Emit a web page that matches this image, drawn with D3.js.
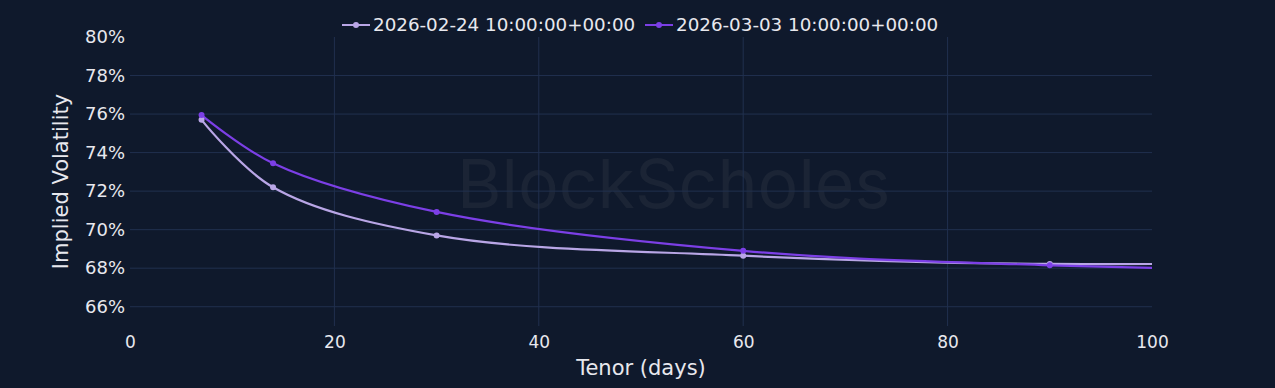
<!DOCTYPE html>
<html>
<head>
    <title>Implied Volatility Term Structure</title>
    <script src="https://d3js.org/d3.v7.min.js"></script>
    <style>
        body { margin: 0; background: #0f192c; }
        svg { display: block; }
        .tick text { fill: #e8e8ee; font-family: "DejaVu Sans", sans-serif; }
        .axis-title { fill: #e8e8ee; font-family: "DejaVu Sans", sans-serif; font-size: 21px; }
        .legend text { fill: #e8e8ee; font-family: "DejaVu Sans", sans-serif; font-size: 18.3px; }
    </style>
</head>
<body>
    <svg width="1275" height="388"></svg>
    <script>
        // tenor in days; last point sits past the visible range and is clipped
        var tenors = [7, 14, 30, 60, 90, 180];
        var seriesNames = ["2026-02-24 10:00:00+00:00", "2026-03-03 10:00:00+00:00"];
        var volFeb24 = [75.7, 72.2, 69.7, 68.65, 68.22, 68.8];
        var volMar03 = [75.95, 73.45, 70.92, 68.9, 68.15, 67.1];
        var seriesColors = ["#b9a6e6", "#7c3fe6"];
        var xTicks = [0, 20, 40, 60, 80, 100];
        var yTicks = [66, 68, 70, 72, 74, 76, 78, 80];

        var svg = d3.select("svg"),
            margin = {top: 37, right: 123, bottom: 62, left: 130},
            width = +svg.attr("width") - margin.left - margin.right,
            height = +svg.attr("height") - margin.top - margin.bottom;

        svg.append("rect").attr("width", 1275).attr("height", 388).attr("fill", "#0f192c");

        var x = d3.scaleLinear().domain([0, 100]).range([0, width]);
        var y = d3.scaleLinear().domain([65, 80]).range([height, 0]);

        var g = svg.append("g")
                   .attr("transform", "translate(" + margin.left + "," + margin.top + ")");

        // watermark
        g.append("text")
         .attr("x", x(53.2))
         .attr("y", y(72.1))
         .attr("text-anchor", "middle")
         .attr("dominant-baseline", "middle")
         .style("font-family", "Inter, sans-serif")
         .style("font-size", "68px")
         .style("fill", "#1b2435")
         .text("BlockScholes");

        // gridlines
        g.selectAll(".vgrid").data(xTicks.filter(d => d > 0 && d < 100)).enter()
         .append("line")
         .attr("x1", d => x(d)).attr("x2", d => x(d))
         .attr("y1", 0).attr("y2", height)
         .attr("stroke", "#21304f").attr("stroke-width", 1);

        g.selectAll(".hgrid").data(yTicks.filter(d => d < 80)).enter()
         .append("line")
         .attr("x1", 0).attr("x2", width)
         .attr("y1", d => y(d)).attr("y2", d => y(d))
         .attr("stroke", "#21304f").attr("stroke-width", 1);

        // axes
        var xAxis = g.append("g")
         .attr("transform", "translate(0," + height + ")")
         .call(d3.axisBottom(x).tickValues(xTicks).tickSize(0).tickPadding(10));
        xAxis.select(".domain").remove();
        xAxis.selectAll("text").style("font-size", "17px");

        var yAxis = g.append("g")
         .call(d3.axisLeft(y).tickValues(yTicks).tickSize(0).tickPadding(5)
               .tickFormat(d => d + "%"));
        yAxis.select(".domain").remove();
        yAxis.selectAll("text").style("font-size", "18px");

        g.append("text")
         .attr("class", "axis-title")
         .attr("x", width / 2)
         .attr("y", height + 49)
         .attr("text-anchor", "middle")
         .text("Tenor (days)");

        g.append("text")
         .attr("class", "axis-title")
         .attr("transform", "rotate(-90)")
         .attr("x", -height / 2)
         .attr("y", -62)
         .attr("text-anchor", "middle")
         .text("Implied Volatility");

        // clip
        svg.append("clipPath").attr("id", "plot-clip")
           .append("rect").attr("width", width).attr("height", height);

        var line = d3.line()
            .x(d => x(d[0]))
            .y(d => y(d[1]))
            .curve(d3.curveCatmullRom.alpha(0.5));

        var allSeries = [volFeb24, volMar03];
        var plot = g.append("g").attr("clip-path", "url(#plot-clip)");

        allSeries.forEach(function(vals, i) {
            var pts = tenors.map((t, j) => [t, vals[j]]);
            plot.append("path")
             .datum(pts)
             .attr("fill", "none")
             .attr("stroke", seriesColors[i])
             .attr("stroke-width", 2.2)
             .attr("d", line);
        });

        allSeries.forEach(function(vals, i) {
            var pts = tenors.map((t, j) => [t, vals[j]]);
            plot.selectAll(".pt" + i).data(pts).enter()
             .append("circle")
             .attr("cx", d => x(d[0]))
             .attr("cy", d => y(d[1]))
             .attr("r", 3)
             .attr("fill", seriesColors[i]);
        });

        // legend
        var legend = svg.append("g").attr("class", "legend");
        var legendX = [342, 645];
        seriesNames.forEach(function(name, i) {
            var lg = legend.append("g").attr("transform", "translate(" + legendX[i] + ",25)");
            lg.append("line").attr("x1", 0).attr("x2", 28).attr("y1", 0).attr("y2", 0)
              .attr("stroke", seriesColors[i]).attr("stroke-width", 2);
            lg.append("circle").attr("cx", 14).attr("cy", 0).attr("r", 3).attr("fill", seriesColors[i]);
            lg.append("text").attr("x", 31).attr("y", 0).attr("dy", "0.35em").text(name);
        });
    </script>
</body>
</html>
